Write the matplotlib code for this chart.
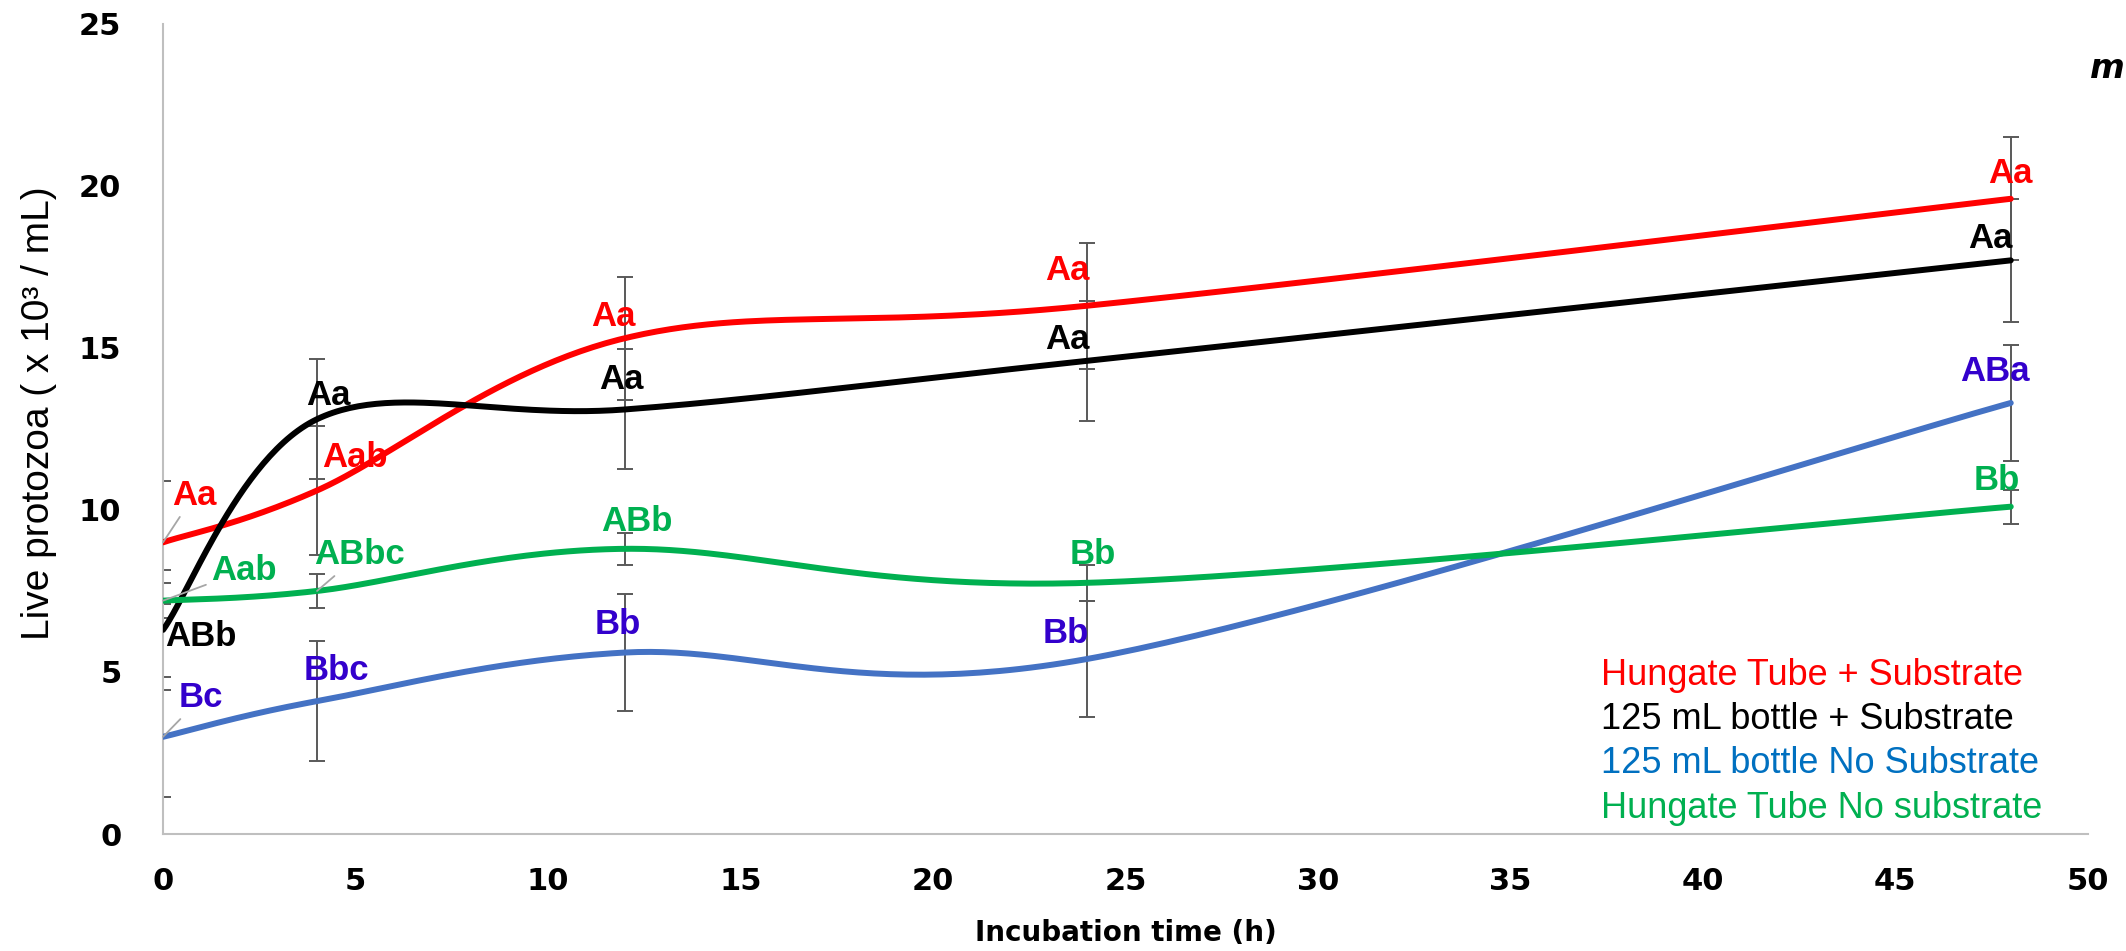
import matplotlib
matplotlib.use("Agg")
import matplotlib.pyplot as plt
import numpy as np

# incubation times (h)
hours = [0, 4, 12, 24, 48]

# live protozoa (x 10^3 / mL)
hungate_sub = [9.0, 10.6, 15.3, 16.3, 19.6]
bottle_sub = [6.3, 12.8, 13.1, 14.6, 17.7]
bottle_nosub = [3.0, 4.1, 5.6, 5.4, 13.3]
hungate_nosub = [7.2, 7.5, 8.8, 7.75, 10.1]

hungate_sub_err = [1.9, 2.0, 1.9, 1.95, 1.9]
bottle_sub_err = [1.85, 1.85, 1.85, 1.85, 1.9]
bottle_nosub_err = [1.85, 1.85, 1.8, 1.8, 1.8]
hungate_nosub_err = [0.55, 0.53, 0.5, 0.55, 0.53]

hungate_sub_letters = ["Aa", "Aab", "Aa", "Aa", "Aa"]
bottle_sub_letters = ["ABb", "Aa", "Aa", "Aa", "Aa"]
bottle_nosub_letters = ["Bc", "Bbc", "Bb", "Bb", "ABa"]
hungate_nosub_letters = ["Aab", "ABbc", "ABb", "Bb", "Bb"]

legend_labels = [
    "Hungate Tube + Substrate",
    "125 mL bottle + Substrate",
    "125 mL bottle No Substrate",
    "Hungate Tube No substrate",
]

LABEL_FONT = ["Liberation Sans", "DejaVu Sans"]
ERR_COLOR = "#595959"
LEADER_COLOR = "#A6A6A6"


def smooth(xs, ys, sx, sy, n=60):
    """Excel-like smoothed line (Catmull-Rom bezier) in screen-scaled space."""
    p = np.column_stack([np.asarray(xs, float) * sx, np.asarray(ys, float) * sy])
    ext = np.vstack([p[0], p, p[-1]])
    out = []
    for i in range(len(p) - 1):
        p0, p1, p2, p3 = ext[i], ext[i + 1], ext[i + 2], ext[i + 3]
        c1 = p1 + (p2 - p0) / 6.0
        c2 = p2 - (p3 - p1) / 6.0
        t = np.linspace(0, 1, n)[:, None]
        seg = ((1 - t) ** 3) * p1 + 3 * ((1 - t) ** 2) * t * c1 + 3 * (1 - t) * t ** 2 * c2 + t ** 3 * p2
        out.append(seg if i == 0 else seg[1:])
    out = np.vstack(out)
    return out[:, 0] / sx, out[:, 1] / sy


series = [
    (hungate_sub, hungate_sub_err, hungate_sub_letters, "#FF0000", "#FF0000",
     [(31, 47), (38, 33), (-12, 22), (-20, 35), (0, 25)]),
    (bottle_sub, bottle_sub_err, bottle_sub_letters, "#000000", "#000000",
     [(38, -7), (11, 24), (-4, 30), (-20, 21), (-20, 22)]),
    (bottle_nosub, bottle_nosub_err, bottle_nosub_letters, "#4472C4", "#3300CC",
     [(38, 39), (19, 31), (-7, 28), (-21, 26), (-16, 31)]),
    (hungate_nosub, hungate_nosub_err, hungate_nosub_letters, "#00B050", "#00B050",
     [(81, 30), (42, 36), (12, 27), (6, 28), (-14, 26)]),
]
legend_colors = ["#FF0000", "#000000", "#0070C0", "#00B050"]
# labels that Excel drew with a leader line: (series index, point index)
leaders = [(0, 0), (2, 0), (3, 0), (3, 1)]

fig = plt.figure(figsize=(21.26, 9.51), dpi=100)
ax = fig.add_axes([0.0767, 0.123, 0.9053, 0.852])
ax.set_xlim(0, 50)
ax.set_ylim(0, 25)

sx = 38.5
sy = 32.4

for vals, errs, letters, color, _, _ in series:
    ax.errorbar(hours, vals, yerr=errs, fmt="none", ecolor=ERR_COLOR,
                elinewidth=1.4, capsize=6, capthick=1.4, zorder=2)

for vals, errs, letters, color, _, _ in series:
    xs, ys = smooth(hours, vals, sx, sy)
    ax.plot(xs, ys, color=color, linewidth=4.3, solid_capstyle="round", zorder=3)

for si, (vals, errs, letters, color, tcolor, offsets) in enumerate(series):
    for pi, (xh, v, lab) in enumerate(zip(hours, vals, letters)):
        off = offsets[pi]
        kw = {}
        if (si, pi) in leaders:
            kw["arrowprops"] = dict(arrowstyle="-", color=LEADER_COLOR, lw=1.3,
                                    shrinkA=2, shrinkB=0)
        ax.annotate(lab, xy=(xh, v), xytext=off, textcoords="offset pixels",
                    ha="center", va="center", color=tcolor, fontsize=25,
                    fontweight="bold", family=LABEL_FONT, zorder=4, **kw)

# legend drawn as coloured text only
handles = [plt.Line2D([], [], linestyle="none") for _ in legend_labels]
leg = ax.legend(handles, legend_labels, loc="lower left",
                bbox_to_anchor=(0.73, -0.03), frameon=False, handlelength=0,
                handletextpad=0, labelspacing=0.26, labelcolor=legend_colors,
                prop={"family": LABEL_FONT, "size": 26})

for side in ("top", "right"):
    ax.spines[side].set_visible(False)
for side in ("left", "bottom"):
    ax.spines[side].set_color("#BFBFBF")
    ax.spines[side].set_linewidth(1.5)

ax.set_xticks(np.arange(0, 51, 5))
ax.set_yticks(np.arange(0, 26, 5))
ax.tick_params(axis="both", length=0, labelsize=22)
ax.tick_params(axis="x", pad=24)
ax.tick_params(axis="y", pad=30)
for lbl in ax.get_xticklabels() + ax.get_yticklabels():
    lbl.set_fontweight("heavy")
    lbl.set_family("DejaVu Sans")

ax.set_xlabel("Incubation time (h)", fontsize=20, fontweight="bold",
              family="DejaVu Sans", labelpad=16)
ax.set_ylabel("Live protozoa ( x 10³ / mL)", fontsize=28,
              family=LABEL_FONT, labelpad=14)
ax.yaxis.set_label_coords(-0.055, 0.52)

# clipped italic text at the right edge of the original figure
fig.text(0.983, 0.928, "m", fontsize=24, fontstyle="italic", fontweight="bold",
         ha="left", va="center", family="DejaVu Sans")

fig.savefig("out.png", dpi=100)
